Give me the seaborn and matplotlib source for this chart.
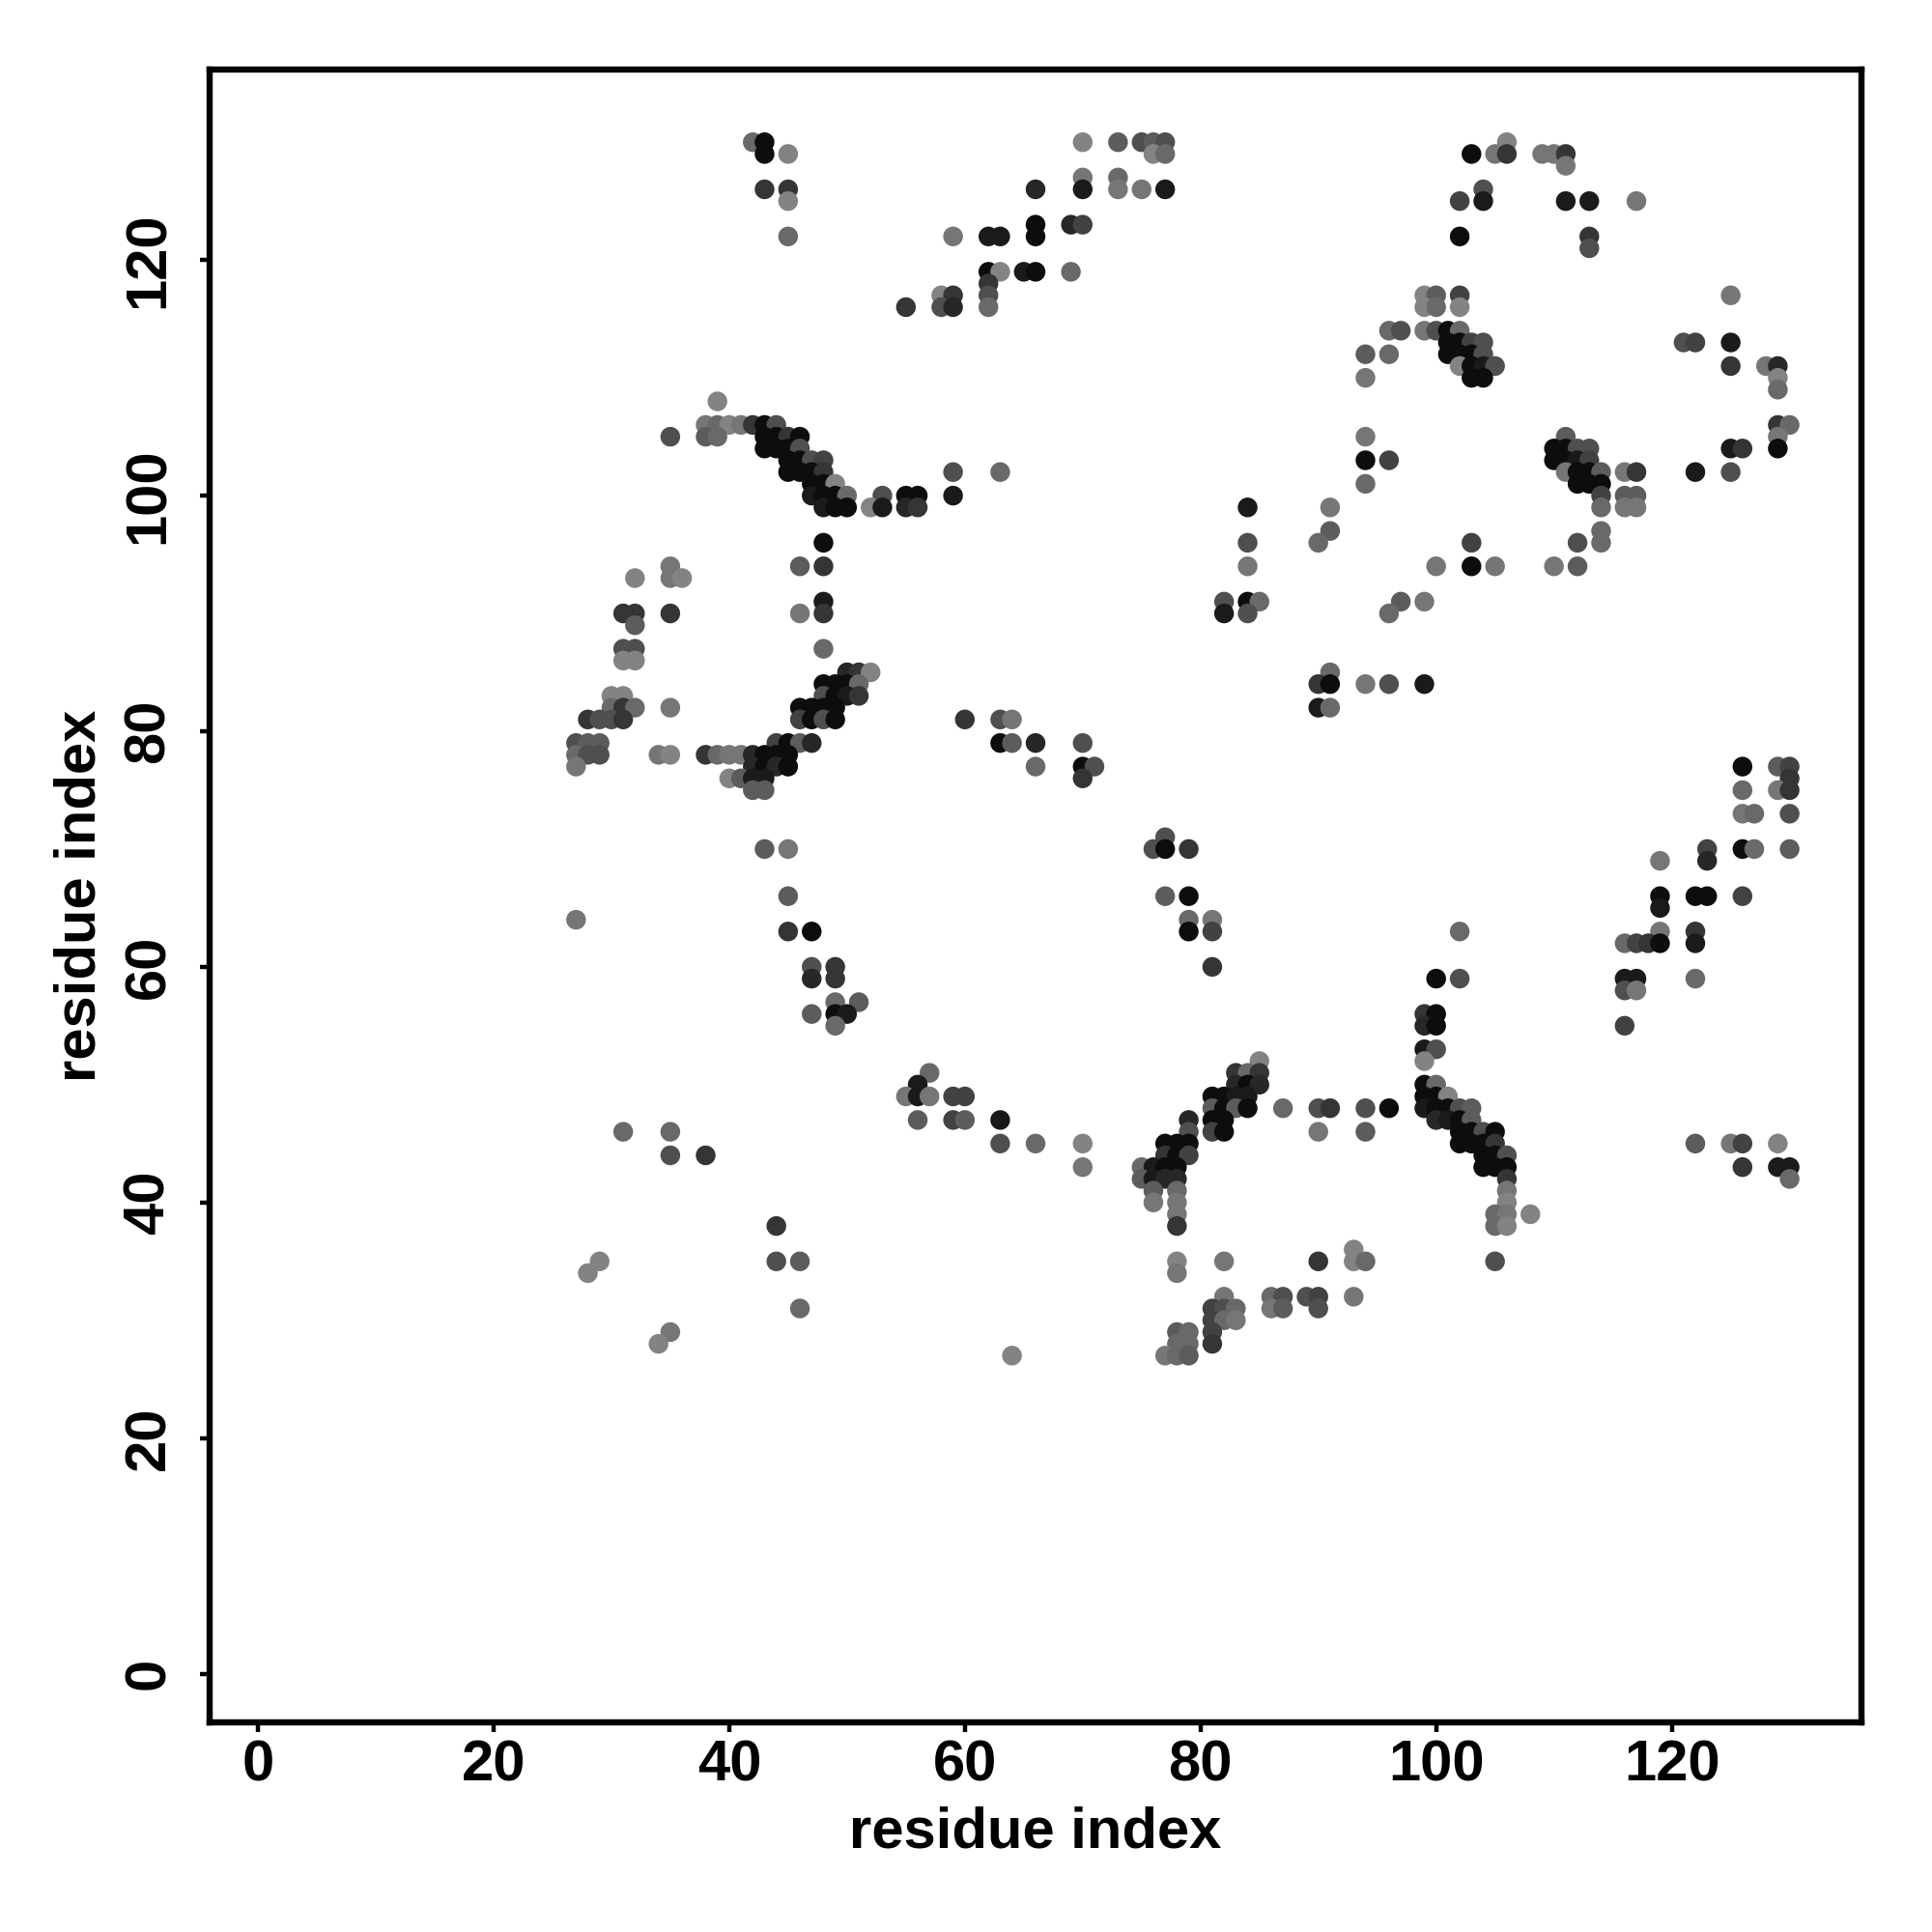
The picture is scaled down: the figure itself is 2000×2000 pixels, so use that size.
import pandas as pd
import seaborn as sns
import matplotlib.pyplot as plt

sns.set_style('white')
plt.rcParams['font.family'] = ['Liberation Sans', 'DejaVu Sans']
plt.rcParams['font.weight'] = 'bold'
plt.rcParams['text.color'] = 'black'
plt.rcParams['axes.labelcolor'] = 'black'
plt.rcParams['xtick.color'] = 'black'
plt.rcParams['ytick.color'] = 'black'

# one entry per contact row: y index, x indices, grey level of each dot
row_y = [130, 129, 128, 127, 126, 125, 123, 122, 121, 119, 118, 117, 116, 114, 113, 112,
         111, 110, 109, 108, 106, 105, 104, 103, 102, 101, 100, 99, 97, 96, 94, 93, 91, 90,
         89, 87, 86, 85, 84, 83, 82, 81, 79, 78, 77, 76, 75, 73, 71, 70, 69, 66, 65, 64, 63,
         62, 60, 59, 58, 57, 56, 55, 53, 52, 51, 50, 49, 48, 47, 46, 45, 44, 43, 42, 41, 40,
         39, 38, 36, 35, 34, 32, 31, 30, 29, 28, 27]
row_x = [
    [42, 43, 70, 73, 75, 76, 77, 106],
    [43, 45, 76, 77, 103, 105, 106, 109, 110, 111],
    [111],
    [70, 73],
    [43, 45, 66, 70, 73, 75, 77, 104],
    [45, 102, 104, 111, 113, 117],
    [66, 69, 70],
    [45, 59, 62, 63, 66, 102, 113],
    [113],
    [62, 63, 65, 66, 69],
    [62],
    [58, 59, 62, 99, 100, 102, 125],
    [55, 58, 59, 62, 99, 100, 102],
    [96, 97, 99, 100, 101, 102],
    [101, 102, 103, 104, 121, 122, 125],
    [94, 96, 101, 102, 103, 104],
    [102, 103, 104, 105, 125, 128, 129],
    [94, 103, 104, 129],
    [129],
    [39],
    [38, 39, 40, 41, 42, 43, 44, 129, 130],
    [35, 38, 39, 43, 44, 45, 46, 94, 111, 129],
    [43, 44, 45, 46, 110, 111, 112, 113, 125, 126, 129],
    [45, 46, 47, 48, 94, 96, 110, 111, 112, 113],
    [45, 46, 47, 48, 59, 63, 111, 112, 113, 114, 116, 117, 122, 125],
    [47, 48, 49, 94, 112, 113, 114],
    [47, 48, 49, 50, 53, 55, 56, 59, 114, 116, 117],
    [48, 49, 50, 52, 53, 55, 56, 84, 91, 114, 116, 117],
    [91, 114],
    [48, 84, 90, 103, 112, 114],
    [35, 46, 48, 84, 100, 103, 105, 110, 112],
    [32, 35, 36],
    [48, 82, 84, 85, 97, 99],
    [31, 32, 35, 46, 48, 82, 84, 96],
    [32],
    [31, 32, 48],
    [31, 32],
    [50, 51, 52, 91],
    [48, 49, 50, 51, 90, 91, 94, 96, 99],
    [30, 31, 48, 49, 50, 51],
    [30, 31, 32, 35, 46, 47, 48, 49, 90, 91],
    [28, 29, 30, 31, 46, 47, 48, 49, 60, 63, 64],
    [27, 28, 29, 44, 45, 46, 47, 63, 64, 66, 70],
    [27, 28, 29, 34, 35, 38, 39, 40, 41, 42, 43, 44, 45],
    [27, 42, 43, 44, 45, 66, 70, 71, 126, 129, 130],
    [40, 41, 42, 43, 70, 130],
    [42, 43, 126, 129, 130],
    [126, 127, 130],
    [77],
    [43, 45, 76, 77, 79, 123, 126, 127, 130],
    [119, 123],
    [45, 77, 79, 119, 122, 123, 126],
    [119],
    [27, 79, 81],
    [45, 47, 79, 81, 102, 119, 122],
    [116, 117, 118, 119, 122],
    [47, 49, 81],
    [47, 49, 100, 102, 116, 117, 122],
    [116, 117],
    [49, 51],
    [47, 49, 50, 99, 100],
    [49, 99, 100, 116],
    [99, 100],
    [85, 99],
    [57, 83, 84, 85],
    [56, 83, 84, 85, 99, 100],
    [55, 56, 57, 59, 60, 81, 82, 83, 84, 99, 100, 101],
    [81, 82, 83, 84, 87, 90, 91, 94, 96, 99, 100, 101, 102, 103],
    [56, 59, 60, 63, 79, 81, 82, 100, 101, 102, 103],
    [31, 35, 79, 81, 82, 90, 94, 102, 103, 104, 105],
    [63, 66, 70, 77, 78, 79, 102, 103, 104, 105, 122, 125, 126, 129],
    [35, 38, 77, 78, 79, 104, 105, 106],
    [70, 75, 76, 77, 78, 104, 105, 106, 126, 129, 130],
    [75, 76, 77, 78, 106, 130],
    [76, 78, 106],
    [76, 78, 106],
    [78, 105, 106, 108],
    [44, 78, 105, 106],
    [93],
    [29, 44, 46, 78, 82, 90, 93, 94, 105],
    [28, 78],
    [82, 86, 87, 89, 90, 93],
    [46, 81, 82, 83, 86, 87, 90],
    [81, 82, 83],
    [35, 78, 79, 81],
    [34, 78, 79, 81],
    [64, 77, 78, 79],
]
row_shade = [
    [.4, .05, .5, .35, .3, .35, .3, .5],
    [.05, .5, .5, .4, .05, .45, .2, .45, .45, .2],
    [.45],
    [.45, .4],
    [.2, .2, .15, .1, .45, .45, .1, .3],
    [.5, .25, .1, .1, .1, .45],
    [.05, .15, .25],
    [.4, .45, .1, .1, .05, .05, .2],
    [.3],
    [.05, .5, .1, .05, .4],
    [.2],
    [.5, .2, .3, .5, .35, .25, .45],
    [.2, .3, .15, .4, .5, .4, .5],
    [.4, .3, .45, .3, .05, .4],
    [.05, .05, .25, .3, .3, .25, .1],
    [.35, .4, .05, .05, .05, .3],
    [.5, .05, .1, .3, .2, .45, .15],
    [.45, .05, .05, .5],
    [.4],
    [.5],
    [.45, .4, .5, .45, .2, .05, .3, .2, .4],
    [.3, .35, .4, .05, .05, .2, .05, .45, .35, .45],
    [.05, .05, .05, .3, .05, .05, .3, .3, .1, .2, .05],
    [.05, .05, .3, .25, .05, .25, .05, .05, .1, .25],
    [.05, .05, .05, .2, .3, .4, .45, .05, .05, .35, .45, .2, .1, .3],
    [.05, .05, .5, .4, .05, .05, .05],
    [.1, .05, .05, .4, .3, .05, .05, .1, .25, .35, .35],
    [.1, .05, .05, .5, .1, .15, .2, .1, .45, .4, .45, .45],
    [.35, .4],
    [.05, .3, .4, .25, .3, .4],
    [.45, .35, .2, .45, .45, .05, .45, .45, .35],
    [.5, .45, .5],
    [.1, .3, .05, .4, .35, .45],
    [.2, .2, .2, .45, .2, .1, .3, .4],
    [.35],
    [.3, .3, .4],
    [.5, .5],
    [.15, .2, .5, .4],
    [.05, .05, .05, .4, .2, .05, .45, .3, .1],
    [.5, .5, .3, .05, .1, .2],
    [.4, .2, .4, .45, .05, .05, .05, .05, .1, .4],
    [.2, .3, .3, .2, .25, .05, .3, .05, .2, .3, .45],
    [.3, .35, .35, .25, .05, .35, .15, .05, .35, .15, .3],
    [.4, .3, .3, .45, .5, .2, .4, .45, .45, .15, .05, .05, .05],
    [.45, .15, .05, .15, .05, .4, .05, .3, .05, .35, .25],
    [.5, .35, .1, .1, .2, .2],
    [.35, .35, .4, .45, .2],
    [.45, .4, .3],
    [.3],
    [.35, .45, .3, .05, .2, .25, .05, .4, .35],
    [.45, .15],
    [.35, .35, .05, .05, .05, .05, .25],
    [.1],
    [.45, .4, .45],
    [.2, .05, .05, .25, .4, .45, .2],
    [.4, .25, .2, .05, .1],
    [.3, .2, .2],
    [.15, .2, .05, .3, .1, .1, .4],
    [.3, .45],
    [.4, .35],
    [.35, .05, .1, .2, .05],
    [.4, .15, .05, .25],
    [.1, .3],
    [.5, .5],
    [.4, .2, .4, .2],
    [.1, .15, .05, .15, .05, .4],
    [.45, .1, .45, .25, .25, .05, .05, .1, .1, .05, .05, .5],
    [.35, .05, .35, .05, .4, .3, .2, .3, .05, .1, .05, .05, .3, .35],
    [.35, .25, .35, .1, .15, .05, .05, .15, .1, .05, .35],
    [.4, .4, .3, .25, .05, .45, .35, .05, .05, .3, .05],
    [.3, .4, .5, .05, .05, .05, .05, .05, .05, .2, .35, .45, .25, .5],
    [.3, .2, .2, .05, .25, .05, .05, .3],
    [.45, .4, .1, .05, .05, .05, .05, .05, .2, .1, .1],
    [.35, .1, .15, .15, .2, .4],
    [.35, .4, .45],
    [.45, .45, .5],
    [.45, .4, .45, .5],
    [.2, .2, .4, .5],
    [.5],
    [.5, .3, .35, .5, .45, .2, .5, .4, .3],
    [.5, .45],
    [.45, .4, .3, .3, .25, .45],
    [.4, .25, .3, .4, .45, .35, .3],
    [.25, .4, .45],
    [.45, .35, .4, .25],
    [.5, .4, .4, .2],
    [.5, .45, .4, .35],
]
ticks = [0, 20, 40, 60, 80, 100, 120]

contacts = pd.DataFrame({
    'x': [v for r in row_x for v in r],
    'y': [y for y, r in zip(row_y, row_x) for v in r],
    'shade': [v for r in row_shade for v in r],
})
# slightly lifted greys, the reference's lightest dots are about #808080
palette = {s: str(round(s * 1.03, 3)) for s in contacts.shade.unique()}

fig = plt.figure(figsize=(10, 10), dpi=200)
ax = fig.add_axes([0.1085, 0.1087, 0.855, 0.8555])
sns.scatterplot(data=contacts, x='x', y='y', hue='shade', palette=palette, s=54,
                linewidth=0, legend=False, ax=ax)

ax.set_xlim(-4.1, 136.1)
ax.set_ylim(-4.1, 136.2)
ax.set_xticks(ticks)
ax.set_yticks(ticks)
ax.tick_params(length=3.6, width=1.6, labelsize=21.5, left=True, bottom=True)
ax.tick_params(axis='x', pad=3)
ax.tick_params(axis='y', labelrotation=90, pad=9)
for t in ax.get_yticklabels():
    t.set_va('center')
ax.set_xlabel('residue index', fontsize=21.5, fontweight='bold', labelpad=5)
ax.set_ylabel('residue index', fontsize=21.5, fontweight='bold', labelpad=6)
for sp in ax.spines.values():
    sp.set_visible(True)
    sp.set_linewidth(2.3)
    sp.set_color('black')

fig.savefig('out.png', dpi=200, facecolor='white')
